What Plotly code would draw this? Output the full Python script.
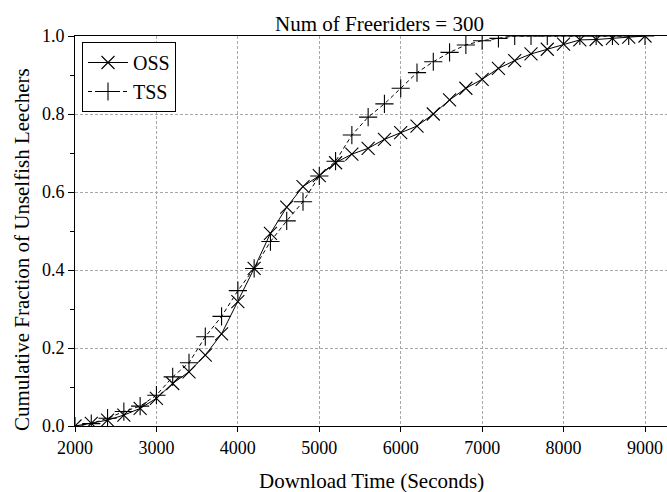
import plotly.graph_objects as go

time_s = [2000, 2200, 2400, 2600, 2800, 3000, 3200, 3400, 3600, 3800, 4000, 4200,
          4400, 4600, 4800, 5000, 5200, 5400, 5600, 5800, 6000, 6200, 6400, 6600,
          6800, 7000, 7200, 7400, 7600, 7800, 8000, 8200, 8400, 8600, 8800, 9000]

oss = [0.0, 0.007, 0.015, 0.028, 0.045, 0.071, 0.109, 0.139, 0.182, 0.236, 0.319, 0.404,
       0.494, 0.561, 0.614, 0.642, 0.675, 0.697, 0.712, 0.735, 0.752, 0.769, 0.800, 0.836,
       0.866, 0.889, 0.917, 0.937, 0.954, 0.966, 0.979, 0.990, 0.991, 0.994, 0.997, 1.0]

tss = [0.0, 0.006, 0.020, 0.037, 0.051, 0.079, 0.126, 0.162, 0.229, 0.281, 0.347, 0.404,
       0.473, 0.526, 0.575, 0.641, 0.679, 0.746, 0.792, 0.826, 0.866, 0.906, 0.934, 0.958,
       0.977, 0.988, 0.994, 1.0, 1.0, 1.0, 1.0, 1.0, 1.0, 1.0, 1.0, 1.0]

x_ticks = [2000, 3000, 4000, 5000, 6000, 7000, 8000, 9000]
y_ticks = [0.0, 0.2, 0.4, 0.6, 0.8, 1.0]
y_tick_labels = ["0.0", "0.2", "0.4", "0.6", "0.8", "1.0"]

FONT = "Liberation Serif, Times New Roman, serif"
PLOT_L, PLOT_T, PLOT_B, W, H = 75, 36, 426, 667, 492
PW, PH = W - PLOT_L, PLOT_B - PLOT_T


def px_x(px):
    return (px - PLOT_L) / PW


def px_y(py):
    return (PLOT_B - py) / PH


fig = go.Figure()
fig.add_trace(go.Scatter(
    x=time_s, y=oss, name="OSS", mode="lines+markers",
    line=dict(color="black", width=1),
    marker=dict(symbol="x-thin", size=13, line=dict(color="black", width=1.1), color="black"),
))
fig.add_trace(go.Scatter(
    x=time_s, y=tss, name="TSS", mode="lines+markers",
    line=dict(color="black", width=1, dash="4px,3px"),
    marker=dict(symbol="cross-thin", size=13, line=dict(color="black", width=1.1), color="black"),
))

fig.update_layout(
    width=W, height=H,
    margin=dict(l=PLOT_L, r=0, t=PLOT_T, b=H - PLOT_B),
    paper_bgcolor="white", plot_bgcolor="white",
    font=dict(family=FONT, size=18, color="black"),
    legend=dict(x=px_x(82), y=px_y(42), xanchor="left", yanchor="top",
                bordercolor="black", borderwidth=1, bgcolor="white",
                font=dict(family=FONT, size=20, color="black"),
                tracegroupgap=0, itemwidth=40),
    showlegend=True,
    annotations=[
        dict(text="Num of Freeriders = 300", x=px_x(379), y=px_y(24),
             xref="paper", yref="paper", xanchor="center", yanchor="middle",
             showarrow=False, font=dict(family=FONT, size=21, color="black")),
        dict(text="Download Time (Seconds)", x=px_x(371), y=px_y(481),
             xref="paper", yref="paper", xanchor="center", yanchor="middle",
             showarrow=False, font=dict(family=FONT, size=21, color="black")),
        dict(text="Cumulative Fraction of Unselfish Leechers", x=px_x(22), y=px_y(250),
             xref="paper", yref="paper", xanchor="center", yanchor="middle",
             textangle=-90, showarrow=False, font=dict(family=FONT, size=21, color="black")),
    ],
)

fig.update_xaxes(
    range=[2000, 2000 + PW / (570 / 7000)],
    tickvals=x_ticks, ticktext=[str(v) for v in x_ticks],
    ticks="outside", ticklen=5, tickcolor="black", tickwidth=1,
    showline=True, linecolor="black", linewidth=1, mirror=True,
    showgrid=True, gridcolor="#a8a8a8", gridwidth=1, griddash="3px,2px",
    zeroline=False,
    tickfont=dict(family=FONT, size=18, color="black"),
)
fig.update_yaxes(
    range=[0, 1.0],
    tickvals=y_ticks, ticktext=y_tick_labels,
    ticks="outside", ticklen=6, tickcolor="black", tickwidth=1,
    minor=dict(dtick=0.1, ticks="outside", ticklen=4, tickcolor="black", showgrid=False),
    showline=True, linecolor="black", linewidth=1,
    showgrid=True, gridcolor="#a8a8a8", gridwidth=1, griddash="3px,2px",
    zeroline=False,
    tickfont=dict(family=FONT, size=18, color="black"),
)

fig.write_html("out.html")
